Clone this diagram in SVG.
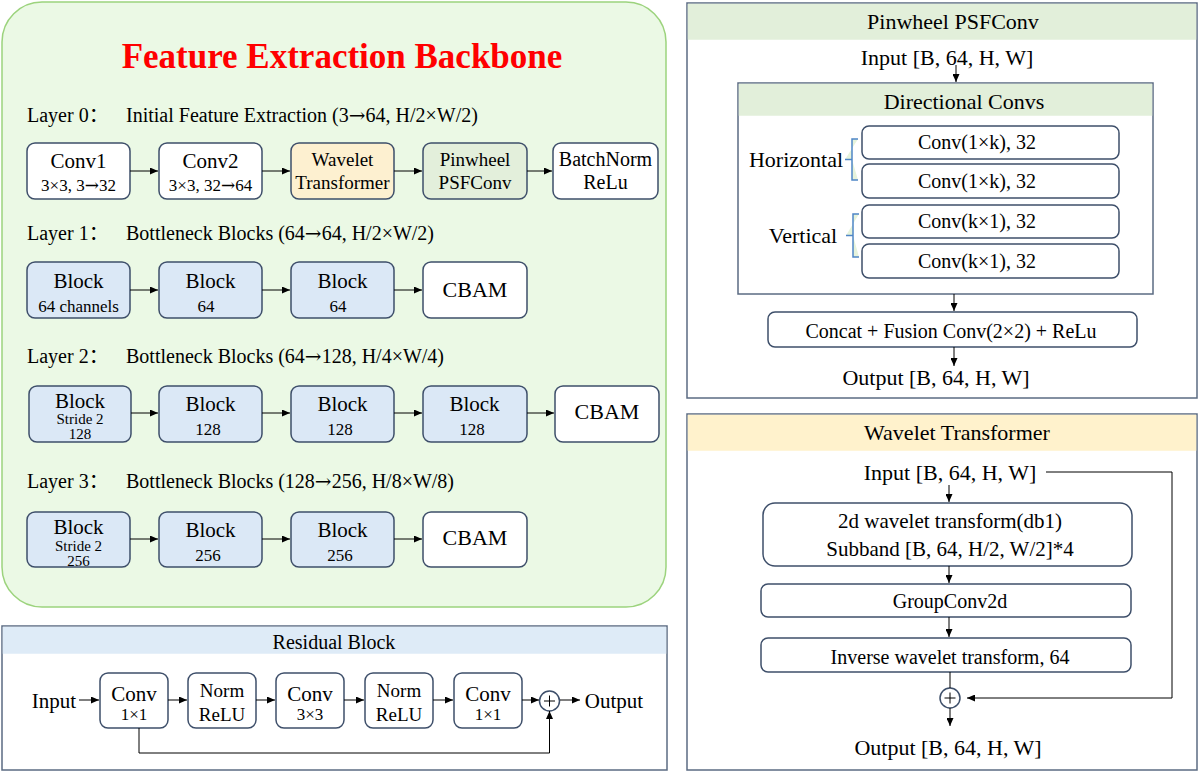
<svg xmlns="http://www.w3.org/2000/svg" width="1200" height="774" viewBox="0 0 1200 774">
<defs>
<marker id="ah" markerUnits="userSpaceOnUse" markerWidth="8" markerHeight="7" refX="8" refY="3.5" orient="auto"><path d="M0,0 L8,3.5 L0,7 z" fill="#000"/></marker>
<style>
text{font-family:"Liberation Serif","Noto Sans CJK SC",serif;fill:#000;text-anchor:middle}
.arw{font-family:"DejaVu Serif",serif}
.box{stroke:#3e4f6a;stroke-width:1.5;fill:#fff}
.blk{fill:#dbe8f6}
.ln{stroke:#000;stroke-width:1;fill:none}
.ar{stroke:#000;stroke-width:1;fill:none;marker-end:url(#ah)}
.m{font-size:21px}
.s{font-size:17px}
.xs{font-size:15px}
.lab{font-size:20px;text-anchor:start}
.pan{stroke:#5b6b82;stroke-width:1.5;fill:#fff}
.brace{fill:#e6f3dc;stroke:#4f86c6;stroke-width:1.5}
</style>
</defs>
<rect width="1200" height="774" fill="#fff"/>

<g id="backbone">
<rect x="2" y="2" width="664" height="605" rx="40" fill="#ebf9e5" stroke="#9cd37d" stroke-width="1.5"/>
<text x="342" y="68" style="font-size:35px;font-weight:bold;fill:#f00">Feature Extraction Backbone</text>
<text class="lab" y="122"><tspan x="27">Layer 0：</tspan><tspan x="126">Initial Feature Extraction (3</tspan><tspan class="arw">→</tspan><tspan>64, H/2×W/2)</tspan></text>
<text class="lab" y="240"><tspan x="27">Layer 1：</tspan><tspan x="126">Bottleneck Blocks (64</tspan><tspan class="arw">→</tspan><tspan>64, H/2×W/2)</tspan></text>
<text class="lab" y="363"><tspan x="27">Layer 2：</tspan><tspan x="126">Bottleneck Blocks (64</tspan><tspan class="arw">→</tspan><tspan>128, H/4×W/4)</tspan></text>
<text class="lab" y="488"><tspan x="27">Layer 3：</tspan><tspan x="126">Bottleneck Blocks (128</tspan><tspan class="arw">→</tspan><tspan>256, H/8×W/8)</tspan></text>
</g>

<g id="l0-conv1"><rect class="box" x="27" y="143" width="103" height="56" rx="8"/><text class="m" x="78.5" y="168">Conv1</text><text class="s" x="78.5" y="191">3×3, 3<tspan class="arw">→</tspan>32</text></g>
<g id="l0-conv2"><rect class="box" x="159" y="143" width="103" height="56" rx="8"/><text class="m" x="210.5" y="168">Conv2</text><text class="s" x="210.5" y="191">3×3, 32<tspan class="arw">→</tspan>64</text></g>
<g id="l0-wavelet"><rect class="box" x="291" y="143" width="103" height="56" rx="8" style="fill:#fdf0d0"/><text x="342.5" y="166" style="font-size:19px">Wavelet</text><text x="342.5" y="189" style="font-size:19px">Transformer</text></g>
<g id="l0-pinwheel"><rect class="box" x="423" y="143" width="104" height="56" rx="8" style="fill:#e3efdb"/><text x="475" y="166" style="font-size:19px">Pinwheel</text><text x="475" y="189" style="font-size:19px">PSFConv</text></g>
<g id="l0-bn"><rect class="box" x="553" y="143" width="105" height="56" rx="8"/><text x="605.5" y="166" style="font-size:20px">BatchNorm</text><text x="605.5" y="189" style="font-size:20px">ReLu</text></g>

<g id="l1-b1"><rect class="box blk" x="27" y="262" width="103" height="56" rx="8"/><text class="m" x="78.5" y="288">Block</text><text class="s" x="78.5" y="312">64 channels</text></g>
<g id="l1-b2"><rect class="box blk" x="159" y="262" width="103" height="56" rx="8"/><text class="m" x="210.5" y="288">Block</text><text class="s" x="206" y="312">64</text></g>
<g id="l1-b3"><rect class="box blk" x="291" y="262" width="103" height="56" rx="8"/><text class="m" x="342.5" y="288">Block</text><text class="s" x="338" y="312">64</text></g>
<g id="l1-cbam"><rect class="box" x="423" y="262" width="104" height="56" rx="8"/><text x="475" y="297" style="font-size:22px">CBAM</text></g>

<g id="l2-b1"><rect class="box blk" x="29" y="386" width="102" height="56" rx="8"/><text class="m" x="80" y="408">Block</text><text class="xs" x="80" y="424">Stride 2</text><text class="xs" x="80" y="439">128</text></g>
<g id="l2-b2"><rect class="box blk" x="159" y="386" width="103" height="56" rx="8"/><text class="m" x="210.5" y="411">Block</text><text class="s" x="208" y="435">128</text></g>
<g id="l2-b3"><rect class="box blk" x="291" y="386" width="103" height="56" rx="8"/><text class="m" x="342.5" y="411">Block</text><text class="s" x="340" y="435">128</text></g>
<g id="l2-b4"><rect class="box blk" x="423" y="386" width="104" height="56" rx="8"/><text class="m" x="474.5" y="411">Block</text><text class="s" x="472" y="435">128</text></g>
<g id="l2-cbam"><rect class="box" x="555" y="386" width="104" height="56" rx="8"/><text x="607" y="419" style="font-size:22px">CBAM</text></g>

<g id="l3-b1"><rect class="box blk" x="27" y="512" width="103" height="55" rx="8"/><text class="m" x="78.5" y="534">Block</text><text class="xs" x="78.5" y="551">Stride 2</text><text class="xs" x="78.5" y="566">256</text></g>
<g id="l3-b2"><rect class="box blk" x="159" y="512" width="103" height="55" rx="8"/><text class="m" x="210.5" y="537">Block</text><text class="s" x="208" y="561">256</text></g>
<g id="l3-b3"><rect class="box blk" x="291" y="512" width="103" height="55" rx="8"/><text class="m" x="342.5" y="537">Block</text><text class="s" x="340" y="561">256</text></g>
<g id="l3-cbam"><rect class="box" x="423" y="512" width="104" height="55" rx="8"/><text x="475" y="545" style="font-size:22px">CBAM</text></g>

<g id="residual">
<rect class="pan" x="2" y="626" width="665" height="144"/>
<rect x="2.75" y="626.75" width="663.5" height="27" fill="#deebf7"/>
<text x="334" y="649" style="font-size:20px">Residual Block</text>
<text x="54" y="708" style="font-size:21px">Input</text>
<text x="614" y="708" style="font-size:21px">Output</text>
</g>
<g id="r-conv1"><rect class="box" x="100" y="673" width="68" height="55" rx="8"/><text class="m" x="134" y="701">Conv</text><text class="s" x="134" y="720">1×1</text></g>
<g id="r-norm1"><rect class="box" x="188" y="673" width="68" height="55" rx="8"/><text x="222" y="697" style="font-size:19px">Norm</text><text x="222" y="721" style="font-size:19px">ReLU</text></g>
<g id="r-conv2"><rect class="box" x="276" y="673" width="68" height="55" rx="8"/><text class="m" x="310" y="701">Conv</text><text class="s" x="310" y="720">3×3</text></g>
<g id="r-norm2"><rect class="box" x="365" y="673" width="68" height="55" rx="8"/><text x="399" y="697" style="font-size:19px">Norm</text><text x="399" y="721" style="font-size:19px">ReLU</text></g>
<g id="r-conv3"><rect class="box" x="454" y="673" width="68" height="55" rx="8"/><text class="m" x="488" y="701">Conv</text><text class="s" x="488" y="720">1×1</text></g>
<g id="r-plus"><circle class="box" cx="549.5" cy="701" r="10"/><path class="ln" d="M544,701 H555 M549.5,695.5 V706.5"/></g>

<g id="pinwheel">
<rect class="pan" x="687" y="3" width="510" height="395"/>
<rect x="687.75" y="3.75" width="508.5" height="36" fill="#e2efda"/>
<text x="953" y="29" style="font-size:22px">Pinwheel PSFConv</text>
<text x="947" y="65" style="font-size:22px">Input [B, 64, H, W]</text>
<text x="936" y="385" style="font-size:22px">Output [B, 64, H, W]</text>
</g>
<g id="directional">
<rect class="pan" x="738" y="83" width="415" height="211"/>
<rect x="738.75" y="83.75" width="413.5" height="32" fill="#e2efda"/>
<text x="964" y="109" style="font-size:22px">Directional Convs</text>
<text x="796" y="167" style="font-size:22px">Horizontal</text>
<text x="803" y="243" style="font-size:22px">Vertical</text>
<path class="brace" d="M858,139 H852 V159.5 H845 M852,159.5 V180 H858"/>
<path class="brace" d="M859,214 H853 V235.5 H846 M853,235.5 V257 H859"/>
</g>
<g id="dc-h1"><rect class="box" x="862" y="126" width="257" height="33" rx="7"/><text x="977" y="149" style="font-size:20px">Conv(1×k), 32</text></g>
<g id="dc-h2"><rect class="box" x="862" y="164" width="257" height="34" rx="7"/><text x="977" y="188" style="font-size:20px">Conv(1×k), 32</text></g>
<g id="dc-v1"><rect class="box" x="862" y="205" width="257" height="33" rx="7"/><text x="977" y="228" style="font-size:20px">Conv(k×1), 32</text></g>
<g id="dc-v2"><rect class="box" x="862" y="244" width="257" height="34" rx="7"/><text x="977" y="268" style="font-size:20px">Conv(k×1), 32</text></g>
<g id="concat"><rect class="box" x="768" y="312" width="369" height="35" rx="7"/><text x="951" y="338" style="font-size:20px">Concat + Fusion Conv(2×2) + ReLu</text></g>

<g id="wavelet">
<rect class="pan" x="687" y="414" width="510" height="356"/>
<rect x="687.75" y="414.75" width="508.5" height="36" fill="#fff2cc"/>
<text x="957" y="440" style="font-size:22px">Wavelet Transformer</text>
<text x="950" y="480" style="font-size:22px">Input [B, 64, H, W]</text>
<text x="948" y="755" style="font-size:22px">Output [B, 64, H, W]</text>
</g>
<g id="wt-dwt"><rect class="box" x="763" y="503" width="369" height="63" rx="12"/><text x="950" y="528" style="font-size:21px">2d wavelet transform(db1)</text><text x="950" y="556" style="font-size:21px">Subband [B, 64, H/2, W/2]*4</text></g>
<g id="wt-gconv"><rect class="box" x="761" y="584" width="370" height="33" rx="7"/><text x="950" y="608" style="font-size:20px">GroupConv2d</text></g>
<g id="wt-iwt"><rect class="box" x="761" y="638" width="370" height="34" rx="7"/><text x="950" y="664" style="font-size:20px">Inverse wavelet transform, 64</text></g>
<g id="wt-plus"><circle class="box" cx="950" cy="698" r="10"/><path class="ln" d="M944.5,698 H955.5 M950,692.5 V703.5"/></g>

<g id="connectors">
<path class="ar" d="M130,171 H158"/>
<path class="ar" d="M262,171 H290"/>
<path class="ar" d="M394,171 H422"/>
<path class="ar" d="M527,171 H552"/>
<path class="ar" d="M130,290 H158"/>
<path class="ar" d="M262,290 H290"/>
<path class="ar" d="M394,290 H422"/>
<path class="ar" d="M131,413 H158"/>
<path class="ar" d="M262,413 H290"/>
<path class="ar" d="M394,413 H422"/>
<path class="ar" d="M527,413 H554"/>
<path class="ar" d="M130,539 H158"/>
<path class="ar" d="M262,539 H290"/>
<path class="ar" d="M394,539 H422"/>
<path class="ar" d="M79,700 H99"/>
<path class="ar" d="M168,700 H187"/>
<path class="ar" d="M256,700 H275"/>
<path class="ar" d="M344,700 H364"/>
<path class="ar" d="M433,700 H453"/>
<path class="ar" d="M522,700 H539"/>
<path class="ar" d="M560,700 H580"/>
<path class="ar" d="M139,728 V753 H549.5 V711"/>
<path class="ar" d="M956,65 V82"/>
<path class="ar" d="M954,294 V311"/>
<path class="ar" d="M954,347 V366"/>
<path class="ar" d="M949,485 V502"/>
<path class="ar" d="M949,566 V583"/>
<path class="ar" d="M949,617 V637"/>
<path class="ln" d="M950,672 V688"/>
<path class="ar" d="M950,708 V726"/>
<path class="ar" d="M1046,472 H1172 V698 H967"/>
</g>
</svg>
